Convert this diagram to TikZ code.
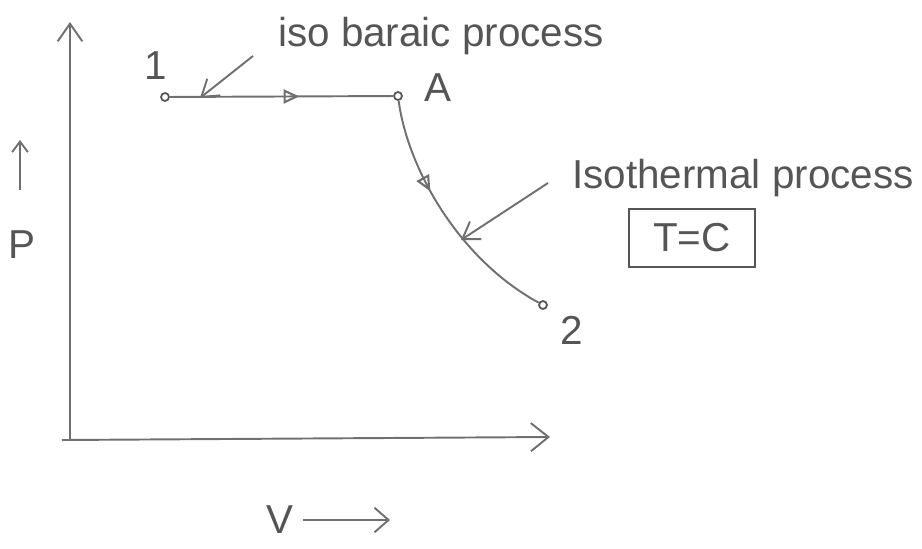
\documentclass[tikz,border=0pt]{standalone}
\usepackage{fontspec}
\setmainfont{Liberation Sans}
\usetikzlibrary{arrows.meta,decorations.markings}
\definecolor{pencil}{RGB}{112,112,112}
\definecolor{ink}{RGB}{85,85,85}
\tikzset{
  pline/.style={draw=pencil, line width=1.1pt},
  dot/.style={circle, draw=ink, fill=white, line width=1pt, inner sep=1.6pt},
  hand/.style={text=ink, font=\fontsize{23}{26}\selectfont, inner sep=1pt},
  midarrow/.style={postaction={decorate, decoration={markings, mark=at position #1 with {\arrow{Triangle[open, length=9pt, width=8pt, line width=1.2pt]}}}}},
  barb/.style={-{Straight Barb[length=9pt, width=12pt, line width=1.1pt]}}
}
\begin{document}
\begin{tikzpicture}[x=0.02cm, y=-0.02cm]
\useasboundingbox (0,0) rectangle (922,548);
% axes
\coordinate (org) at (70,440);
\coordinate (ytip) at (70,22);
\coordinate (xstart) at (62,440);
\coordinate (xtip) at (550,437);
\draw[pline, -{Straight Barb[length=10pt, width=14pt, line width=1.1pt]}] (org) -- (ytip);
\draw[pline, -{Straight Barb[length=10pt, width=16pt, line width=1.1pt]}] (xstart) -- (xtip);
% axis labels
\node[hand] (plab) at (22,245) {P};
\coordinate (pa1) at (20,190);
\coordinate (pa2) at (20,140);
\draw[pline, -{Straight Barb[length=6pt, width=9pt, line width=1.1pt]}] (pa1) -- (pa2);
\node[hand] (vlab) at (280,520) {V};
\coordinate (va2) at (390,520);
\draw[pline, -{Straight Barb[length=8pt, width=14pt, line width=1.1pt]}] (vlab.east) ++(4pt,0) -- (va2);
% points
\node[dot] (p1) at (165,97) {};
\node[dot] (pA) at (398,96) {};
\node[dot] (p2) at (543,305) {};
\node[hand] (l1) at (156,66) {1};
\node[hand] (lA) at (438,88) {A};
\node[hand] (l2) at (572,330) {2};
% processes
\draw[pline, midarrow=0.58] (p1) -- (pA);
\draw[pline, midarrow=0.38] (pA) .. controls (408,170) and (460,260) .. (p2);
% labels
\node[hand] (isob) at (441,36) {iso baraic process};
\coordinate (ib1) at (253,56);
\coordinate (ib2) at (200,98);
\draw[pline, barb] (ib1) -- (ib2);
\node[hand] (isot) at (743,178) {Isothermal process};
\coordinate (it1) at (548,183);
\coordinate (it2) at (461,240);
\draw[pline, barb] (it1) -- (it2);
\node[hand, draw=ink, line width=1.1pt, minimum width=72pt, minimum height=33pt, inner sep=4pt] (tc) at (692,238) {T=C};
\end{tikzpicture}
\end{document}
